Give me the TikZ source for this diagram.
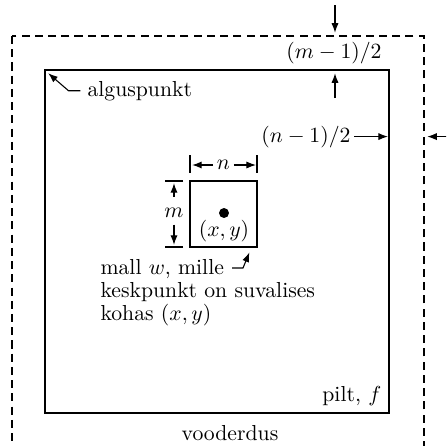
\documentclass[tikz,border=0pt]{standalone}
\usetikzlibrary{arrows.meta}
\usetikzlibrary{positioning}
\begin{document}
\begin{tikzpicture}[->,>={Latex[length=4.4pt,width=3.3pt]},line width=0.5pt,x=0.4608pt,y=-0.4608pt,lbl/.style={inner sep=0pt}]
			\useasboundingbox (0,0) rectangle (446,446);
			\clip (0,0) rectangle (446,446);
			\coordinate (raam-nw) at (12,36);
			\coordinate (raam-se) at (424,480);
			\coordinate (pilt-nw) at (45,70);
			\coordinate (pilt-se) at (389,413);
			\coordinate (mall-nw) at (190,181);
			\coordinate (mall-se) at (257,247);
			\draw[-,dash pattern=on 3.7pt off 2.4pt] (raam-nw) rectangle (raam-se);
			\draw[-] (pilt-nw) rectangle (pilt-se);
			\draw[-] (mall-nw) rectangle (mall-se);
			\node[lbl,anchor=base] (mtxt) at (334,58) {$(m-1)/2$};
			\node[lbl,anchor=base east] (ntxt) at (351,142) {$(n-1)/2$};
			\node[lbl,anchor=base west] (algus) at (87,96) {alguspunkt};
			\node[anchor=south east] (piltf) at (pilt-se) {pilt, $f$};
			\node[lbl,anchor=base] (vood) at (230,440) {vooderdus};
			\node[circle,fill,inner sep=0pt,minimum size=4.6pt] (kesk) at (224,213) {};
			\node[lbl,below=0.5pt of kesk] (xy) {$(x,y)$};
			\node[lbl] (nn) at (223.5,165) {$n$};
			\node[lbl] (mm) at (174,213) {$m$};
			\node[lbl,anchor=north west,align=left,font=\fontsize{10}{10.6}\selectfont] (malltxt) at (100,259) {mall $w$, mille\\keskpunkt on suvalises\\kohas $(x,y)$};
			\coordinate (ylal) at (335,5);
			\coordinate (mal) at (335,98);
			\coordinate (paremal) at (460,136.6);
			\coordinate (millelopp) at (232,268);
			\draw  (ylal) -- ([yshift=1.5pt]ylal |- raam-nw);
			\draw  (mal) -- ([yshift=-1.5pt]mal |- pilt-nw);
			\draw  ([xshift=1.5pt]ntxt.east) -- ([xshift=-0.5pt]pilt-se |- ntxt.east);
			\draw  (paremal) -- ([xshift=1.5pt]raam-se |- paremal);
			\draw  ([xshift=-3pt]algus.west) -- ++(-12,0) -- ([xshift=1.5pt,yshift=-1.5pt]pilt-nw);
			\draw[-] (mall-nw |- 0,155) -- (mall-nw |- 0,173);
			\draw[-] (mall-se |- 0,155) -- (mall-se |- 0,173);
			\draw  ([xshift=-1.5pt]nn.west) -- ([xshift=1pt]mall-nw |- nn.west);
			\draw  ([xshift=1.5pt]nn.east) -- ([xshift=-0.5pt]mall-se |- nn.east);
			\draw[-] ([xshift=-3.2pt]mall-nw) -- ++(-18,0);
			\draw[-] ([xshift=-3.2pt]mall-nw |- mall-se) -- ++(-18,0);
			\draw  ([yshift=5pt]mm.north) -- ([yshift=-1pt]mm.north |- mall-nw);
			\draw  ([yshift=-3pt]mm.south) -- ([yshift=1pt]mm.south |- mall-se);
			\draw  (millelopp) -- ++(11,0) -- ([xshift=-3.5pt,yshift=-2.5pt]mall-se);
\end{tikzpicture}
\end{document}
